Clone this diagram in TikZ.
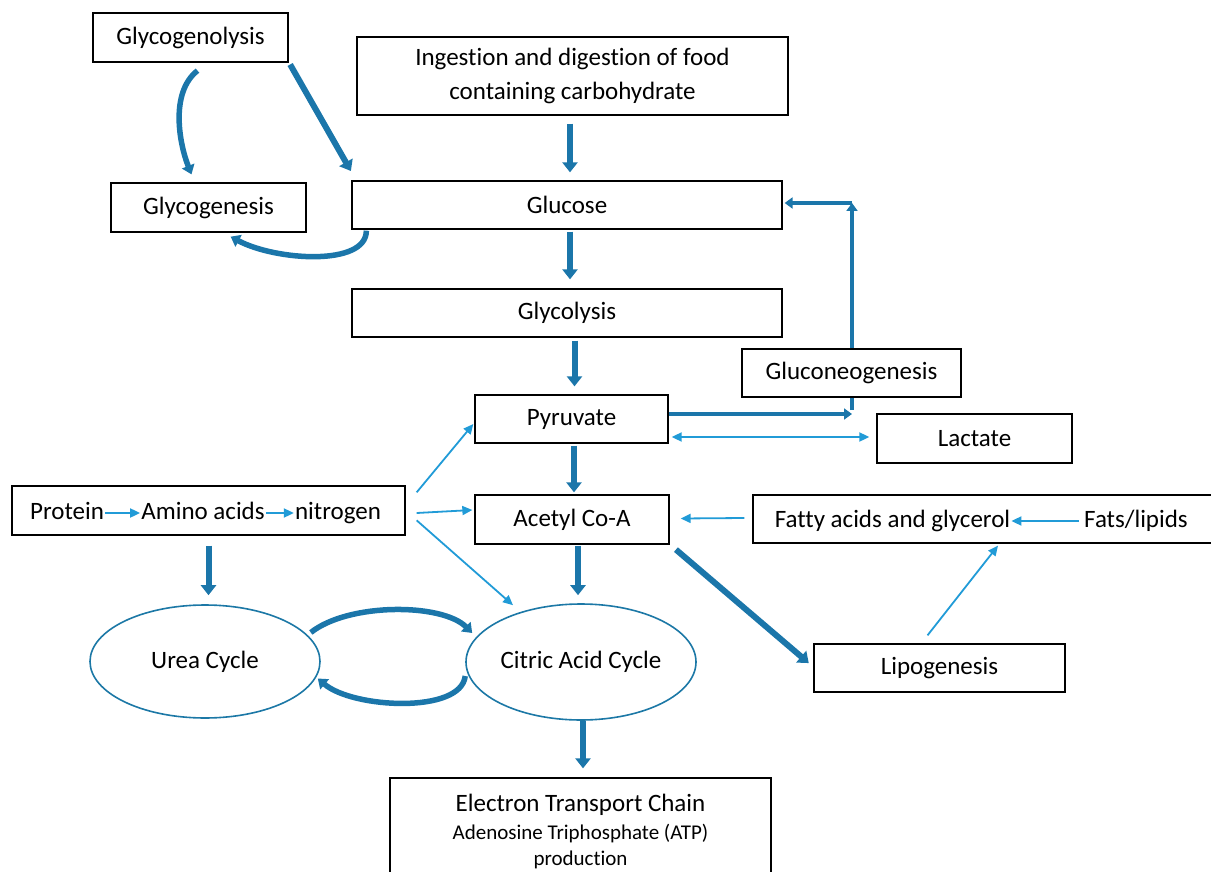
\documentclass[tikz,border=0pt]{standalone}
\usepackage{fontspec}
\setmainfont{Carlito}[Ligatures=NoCommon]
\usetikzlibrary{arrows.meta,shapes.geometric}

\definecolor{darkarr}{RGB}{27,118,170}
\definecolor{lightarr}{RGB}{33,155,215}
\definecolor{ringcol}{RGB}{28,120,166}

\begin{document}
\begin{tikzpicture}[x=1pt,y=-1pt,
  box/.style={draw=black, line width=1.3pt, fill=white, rectangle, inner sep=0pt,
    font=\fontsize{25}{34}\selectfont, align=center},
  ring/.style={draw=ringcol, line width=1.6pt, fill=white, ellipse, inner sep=0pt,
    font=\fontsize{25}{30}\selectfont},
  word/.style={inner sep=1pt, text height=18pt, text depth=6pt, font=\fontsize{25}{30}\selectfont},
  darr/.style={draw=darkarr, line width=6pt, -{Triangle[length=10pt,width=15pt]}},
  darrthin/.style={draw=darkarr, line width=4.5pt, -{Triangle[length=8pt,width=11pt]}},
  curv/.style={draw=darkarr, line width=5.5pt, -{Triangle[length=9pt,width=13pt]}},
  larr/.style={draw=lightarr, line width=1.8pt, -{Triangle[length=10pt,width=9pt]}},
  larrb/.style={draw=lightarr, line width=1.8pt, {Triangle[length=10pt,width=9pt]}-{Triangle[length=10pt,width=9pt]}}
]

\useasboundingbox (0,0) rectangle (1211,872);

%% top row
\node[box, minimum width=195, minimum height=49] (gnolysis) at (190.5,37.5) {Glycogenolysis};
\node[box, minimum width=431, minimum height=78] (ingest) at (572.5,76)
  {Ingestion and digestion of food\\containing carbohydrate};

\node[box, minimum width=430, minimum height=48] (glucose) at (567,205) {Glucose};
\node[box, minimum width=195, minimum height=49] (gnesis) at (208.5,207.5) {Glycogenesis};
\node[box, minimum width=430, minimum height=48] (glycolysis) at (567,313) {Glycolysis};

%% middle
\node[box, minimum width=219, minimum height=48] (gneo) at (851.5,373) {Gluconeogenesis};
\node[box, minimum width=193, minimum height=48] (pyruvate) at (571.5,419) {Pyruvate};
\node[box, minimum width=195, minimum height=49] (lactate) at (974.5,438.5) {Lactate};

\node[box, minimum width=393, minimum height=49] (protbox) at (208.5,510.5) {};
\node[word] (protein) at (67,513) {Protein};
\node[word] (amino) at (203,513) {Amino acids};
\node[word] (nitrogen) at (338,513) {nitrogen};

\node[box, minimum width=194, minimum height=49] (acetyl) at (572,519.5) {Acetyl Co-A};

\node[box, minimum width=460, minimum height=48] (fatbox) at (983,519) {};
\node[word] (fatty) at (892.5,521) {Fatty acids and glycerol};
\node[word] (fats) at (1136,521) {Fats/lipids};

\node[box, minimum width=251, minimum height=48] (lipo) at (939.5,668) {Lipogenesis};

%% cycles
\node[ring, minimum width=230, minimum height=113] (urea) at (205,661.5) {Urea Cycle};
\node[ring, minimum width=230, minimum height=116] (citric) at (581,662) {Citric Acid Cycle};

\node[box, minimum width=381, minimum height=108] (etc) at (580.5,832)
  {\fontsize{25}{29}\selectfont Electron Transport Chain\\[-6pt]
   \fontsize{21}{25}\selectfont Adenosine Triphosphate (ATP)\\[-8pt]
   \fontsize{21}{25}\selectfont production};

%% thick arrows
\draw[darr, shorten <=8pt, shorten >=8pt] ([xshift=-2.5pt]ingest.south) -- ([xshift=-2.5pt]ingest.south |- glucose.north);
\draw[darr, shorten <=2pt, shorten >=9pt] ([xshift=3pt]glucose.south) -- ([xshift=3pt]glucose.south |- glycolysis.north);
\draw[darr, shorten <=3pt, shorten >=8pt] ([xshift=3pt]pyruvate.north |- glycolysis.south) -- ([xshift=3pt]pyruvate.north);
\draw[darr, shorten <=2pt, shorten >=2pt] ([xshift=2.5pt]pyruvate.south) -- ([xshift=2.5pt]pyruvate.south |- acetyl.north);
\draw[darr, shorten <=1pt, shorten >=8pt] ([xshift=6pt]acetyl.south) -- ([xshift=6pt]acetyl.south |- citric.north);
\draw[darr, shorten <=0pt, shorten >=9pt] ([xshift=2pt]citric.south) -- ([xshift=2pt]citric.south |- etc.north);
\draw[darr, shorten <=10pt, shorten >=9pt] (protbox.south) -- (protbox.south |- urea.north);
\draw[darr, shorten <=1pt, shorten >=5pt] ([shift={(1,1)}]gnolysis.south east) -- ([shift={(2,-5)}]glucose.north west);
\draw[darr, shorten <=3pt, shorten >=6pt] ([shift={(4,3)}]acetyl.south east) -- ([shift={(0,-1)}]lipo.west);

%% gluconeogenesis loop
\coordinate (turn) at (852,414);
\coordinate (bend) at (852,203);
\draw[darrthin] ([shift={(0,-5)}]pyruvate.east) -- (turn);
\draw[draw=darkarr, line width=4.5pt] ([yshift=4pt]turn) -- (gneo.south -| turn);
\draw[darrthin] (gneo.north -| bend) -- (bend);
\draw[darrthin, shorten >=2pt] (bend) -- (glucose.east |- bend);

%% curved arrows
\draw[curv] ([shift={(7,8)}]gnolysis.south) .. controls +(-28,22) and +(-12,-30) .. ([shift={(-17,-8)}]gnesis.north);
\draw[curv] ([shift={(15,1)}]glucose.south west) .. controls +(0,36) and +(45,24) .. ([shift={(-76,4)}]gnesis.south east);
\draw[curv] ([shift={(-10,-29)}]urea.east) .. controls +(38,-30) and +(-30,-30) .. ([shift={(7,-29)}]citric.west);
\draw[curv] ([shift={(0,14)}]citric.west) .. controls +(-4,38) and +(35,30) .. ([shift={(-3,17)}]urea.east);

%% thin arrows
\draw[larr] (protein) -- (amino);
\draw[larr] (amino) -- (nitrogen);
\draw[larr] ([shift={(11,7)}]protbox.north east) -- ([shift={(-1,5)}]pyruvate.west);
\draw[larr] ([shift={(11,2.5)}]protbox.east) -- ([shift={(-2,-9.5)}]acetyl.west);
\draw[larr] ([shift={(11,35)}]protbox.north east) -- ([shift={(-68,2)}]citric.north);
\draw[larrb] ([shift={(3,18)}]pyruvate.east) -- ([shift={(-7,-1.5)}]lactate.west);
\draw[larr] ([shift={(-8,-1)}]fatbox.west) -- ([shift={(11,-1)}]acetyl.east);
\draw[larr, shorten <=4pt] (fats) -- (fatty);
\draw[larr] ([shift={(-12,-8)}]lipo.north) -- ([shift={(15,2)}]fatbox.south);

\end{tikzpicture}
\end{document}
